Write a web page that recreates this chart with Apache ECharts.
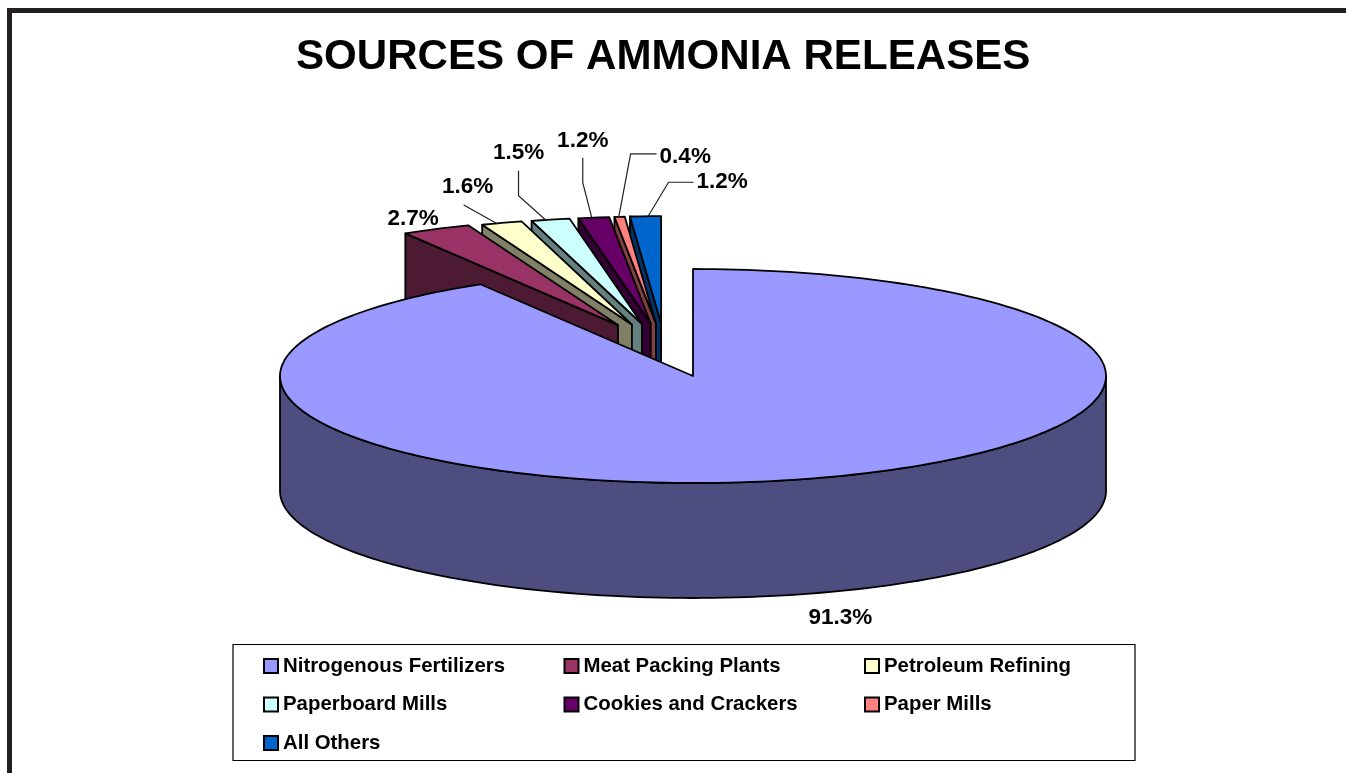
<!DOCTYPE html>
<html>
<head>
<meta charset="utf-8">
<style>html,body{margin:0;padding:0;background:#fff}#c{width:1346px;height:773px}</style>
<script src="https://cdn.jsdelivr.net/npm/echarts@6/dist/echarts.min.js"></script>
</head>
<body>
<div id="c"></div>
<script>
const chartTitle = 'SOURCES OF AMMONIA RELEASES';
const categories = ['Nitrogenous Fertilizers','Meat Packing Plants','Petroleum Refining','Paperboard Mills','Cookies and Crackers','Paper Mills','All Others'];
const values = [91.3, 2.7, 1.6, 1.5, 1.2, 0.4, 1.2];
const topColors = ['#9999FF','#993366','#FFFFCC','#CCFFFF','#660066','#FF8080','#0066CC'];
const wallColors = ['#4D4D80','#4D1A33','#808066','#668080','#330033','#804040','#003366'];
const legendColumns = [[0,3,6],[1,4],[2,5]];

// Pie projection
const CX = 693, CY = 376, RX = 413, RY = 107, DEPTH = 115;
const total = values.reduce((a,b)=>a+b,0);
const starts = []; values.reduce((a,v,i)=>{starts[i]=a; return a+v;},0);
const pt = (ax, ay, deg, dz) => [ax + RX*Math.sin(deg*Math.PI/180), ay - RY*Math.cos(deg*Math.PI/180) + (dz||0)];
const arc = (ax, ay, d0, d1, dz) => { const n = Math.max(2, Math.ceil(Math.abs(d1-d0)/1.5)), p=[]; for(let i=0;i<=n;i++) p.push(pt(ax,ay,d0+(d1-d0)*i/n,dz)); return p; };

// Label placement relative to the slice's outer mid point: [text dx, text dy, align], leader offsets
const labelLayout = [
  {t:[37,23.5,'center'], l:null},
  {t:[-23,-10,'center'], l:null},
  {t:[-34,-36,'center'], l:[[-4,1],[-38,-18]]},
  {t:[-32,-67,'center'], l:[[-4,1],[-32,-24],[-32,-49]]},
  {t:[-11,-77,'center'], l:[[-2,0],[-11,-35],[-11,-60]]},
  {t:[40,-60,'left'], l:[[-1,1],[11,-63],[37,-63]]},
  {t:[51,-34,'left'], l:[[2,1],[23,-34],[48,-34]]}
];
const LINE = {stroke:'#000', lineWidth:1.8, lineJoin:'round'};

function renderSlice(idx){
  return function(params, api){
    const s0 = api.value(0)/total*360, s1 = s0 + api.value(1)/total*360;
    const kids = [];
    const big = idx === 0;
    let ax = CX, ay = CY, mid = (s0+s1)/2;
    if(!big){ ax = CX - (28 + 1.8*(360-mid)); ay = CY - 53 + 0.08*(360-mid); }
    if(big){
      const front = arc(ax,ay,90,270,0), back = arc(ax,ay,270,90,DEPTH);
      kids.push({type:'polygon',shape:{points:front.concat(back)},style:Object.assign({fill:wallColors[idx]},LINE)});
      const top = [[ax,ay]].concat(arc(ax,ay,s0,s1,0));
      kids.push({type:'polygon',shape:{points:top},style:Object.assign({fill:topColors[idx]},LINE)});
    } else {
      const c = pt(ax,ay,s0,0);
      kids.push({type:'polygon',shape:{points:[[ax,ay],c,[c[0],c[1]+DEPTH],[ax,ay+DEPTH]]},style:Object.assign({fill:wallColors[idx]},LINE)});
      kids.push({type:'polygon',shape:{points:[[ax,ay]].concat(arc(ax,ay,s0,s1,0))},style:Object.assign({fill:topColors[idx]},LINE)});
    }
    const m = pt(ax,ay,mid,big?DEPTH:0);
    const lay = labelLayout[idx];
    if(lay.l){
      const pts = lay.l.map(o=>[m[0]+o[0],m[1]+o[1]]);
      kids.push({type:'polyline',shape:{points:pts},style:{stroke:'#222',lineWidth:1.2,fill:null}});
    }
    kids.push({type:'text',style:{text:values[idx].toFixed(1)+'%',x:m[0]+lay.t[0],y:m[1]+lay.t[1],align:lay.t[2],verticalAlign:'middle',fill:'#000',font:'bold 22.5px "Liberation Sans"'}});
    return {type:'group',children:kids};
  };
}

// Draw order: right-most exploded slice first, large slice last
const drawOrder = [6,5,4,3,2,1,0];
const series = drawOrder.map(i=>({
  type:'custom', name:categories[i], coordinateSystem:'none', silent:true, animation:false, clip:false,
  itemStyle:{color:topColors[i]},
  data:[[starts[i],values[i]]],
  renderItem:renderSlice(i)
}));

const legendX = [258,558.5,859];
const legend = legendColumns.map((col,k)=>({
  show:true, orient:'vertical', left:legendX[k], top:650, itemGap:16.5, itemWidth:14, itemHeight:14, icon:'rect',
  selectedMode:false,
  data:col.map(i=>categories[i]),
  itemStyle:{borderColor:'#000',borderWidth:2},
  textStyle:{color:'#000',fontFamily:'Liberation Sans',fontWeight:'bold',fontSize:20.4,padding:[0,0,0,0],lineHeight:22}
}));

const chart = echarts.init(document.getElementById('c'),null,{renderer:'canvas'});
chart.setOption({
  backgroundColor:'#fff',
  animation:false,
  title:{text:chartTitle,left:291,top:31,textStyle:{color:'#000',fontFamily:'Liberation Sans',fontWeight:'bold',fontSize:42.1}},
  legend:legend,
  graphic:[
    {type:'rect',silent:true,z:-1,shape:{x:7,y:8,width:1339,height:5},style:{fill:'#231F20'}},
    {type:'rect',silent:true,z:-1,shape:{x:7,y:8,width:5,height:765},style:{fill:'#231F20'}},
    {type:'rect',silent:true,z:-1,shape:{x:233,y:644.5,width:902,height:116},style:{fill:'#fff',stroke:'#000',lineWidth:1.2}}
  ],
  series:series
});
</script>
</body>
</html>
